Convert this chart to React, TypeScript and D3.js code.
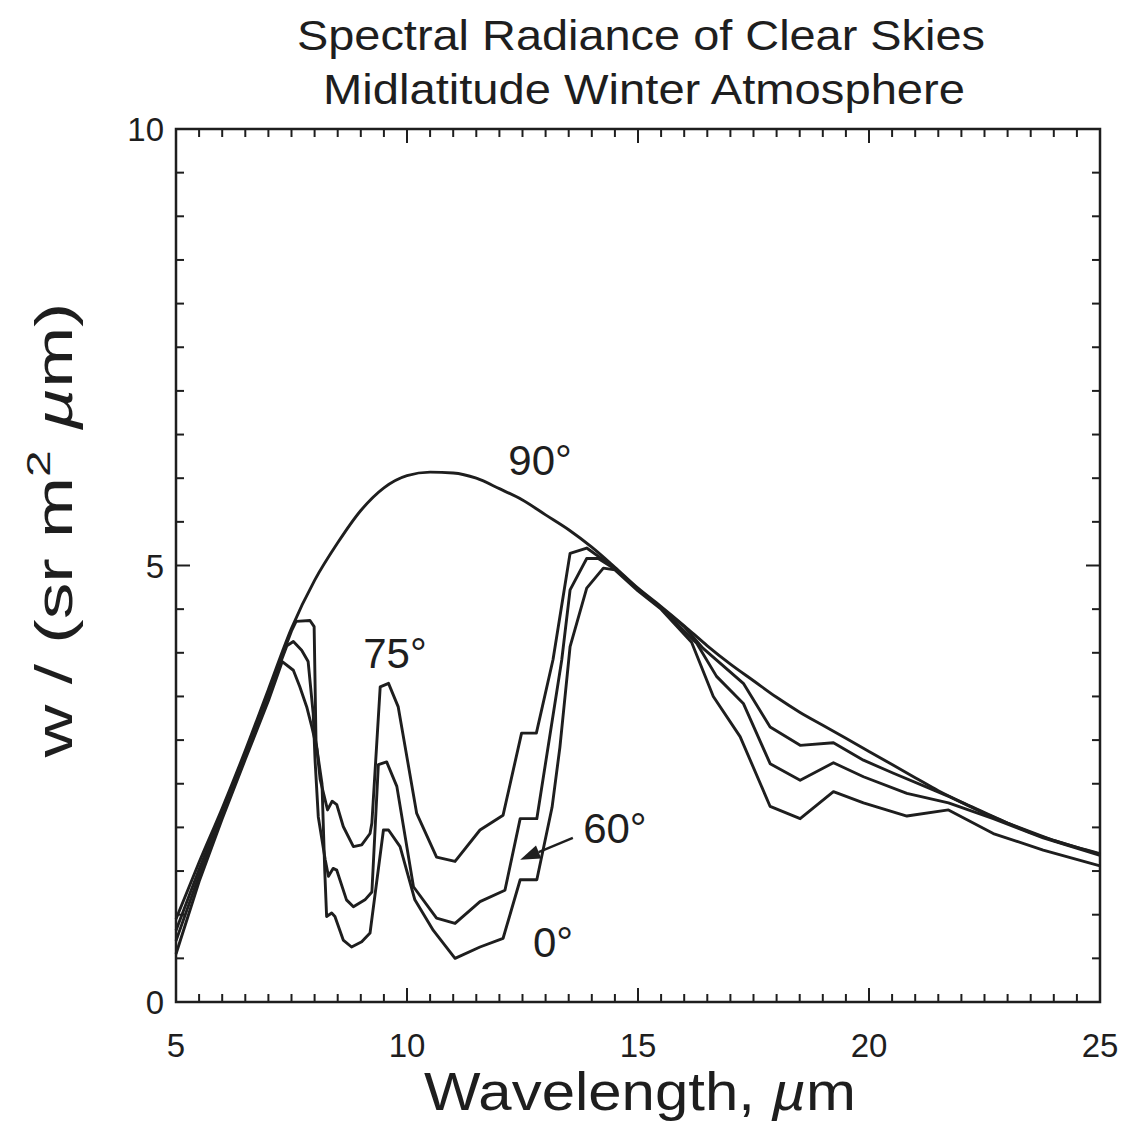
import React from 'react';
import * as d3 from 'd3';

const W = 1126;
const H = 1136;
const margin = { top: 129, right: 26, bottom: 134, left: 176 };
const FONT = '"Liberation Sans", Arial, sans-serif';
const INK = '#1e1e1e';

// axis ticks
const xMajor = [5, 10, 15, 20, 25];
const yMajor = [0, 5, 10];

// radiance curves, [wavelength um, W/(sr m2 um)]
const zenith90: [number, number][] = [
  [5, 0.95], [5.5, 1.6], [6, 2.22], [6.5, 2.88], [7, 3.58], [7.5, 4.28], [8, 4.83],
  [8.5, 5.26], [9, 5.63], [9.5, 5.89], [10, 6.03], [10.5, 6.07], [11, 6.06],
  [11.5, 6.0], [12, 5.88], [12.5, 5.75], [13, 5.58], [13.5, 5.41], [14, 5.21],
  [14.5, 4.98], [15, 4.74], [15.5, 4.53], [16, 4.31], [16.5, 4.08], [17, 3.87],
  [17.5, 3.68], [18, 3.49], [18.5, 3.32], [19, 3.17], [19.5, 3.02], [20, 2.87],
  [20.5, 2.72], [21, 2.57], [21.5, 2.42], [22, 2.29], [22.5, 2.17], [23, 2.05],
  [23.5, 1.94], [24, 1.85], [24.5, 1.77], [25, 1.7],
];

const zenith75: [number, number][] = [
  [5, 0.82], [5.5, 1.52], [6, 2.18], [6.5, 2.85], [7, 3.55], [7.5, 4.25], [7.6, 4.36],
  [7.9, 4.37], [7.99, 4.3], [8.03, 3.0], [8.12, 2.55], [8.28, 2.2], [8.38, 2.3],
  [8.48, 2.26], [8.62, 2.01], [8.84, 1.78], [9.02, 1.8], [9.2, 1.93], [9.24, 2.05],
  [9.42, 3.61], [9.6, 3.65], [9.81, 3.38], [10.21, 2.16], [10.64, 1.66], [11.04, 1.61],
  [11.58, 1.97], [12.08, 2.14], [12.48, 3.08], [12.8, 3.08], [13.16, 3.92], [13.53, 5.14],
  [13.89, 5.2], [14.5, 4.97], [15, 4.73], [15.5, 4.52], [16, 4.3], [16.41, 4.05],
  [17.28, 3.65], [17.86, 3.15], [18.51, 2.94], [19.23, 2.97], [19.88, 2.77],
  [20.53, 2.62], [21.39, 2.43], [21.75, 2.35], [22.5, 2.16], [23, 2.05], [24, 1.85],
  [25, 1.69],
];

const zenith60: [number, number][] = [
  [5, 0.7], [5.5, 1.45], [6, 2.15], [6.5, 2.83], [7, 3.52], [7.4, 4.08], [7.54, 4.13],
  [7.72, 4.03], [7.86, 3.9], [7.97, 3.3], [8.01, 2.77], [8.08, 2.12], [8.23, 1.63],
  [8.3, 1.44], [8.4, 1.53], [8.48, 1.51], [8.69, 1.17], [8.84, 1.09], [9.09, 1.17],
  [9.24, 1.26], [9.38, 2.72], [9.56, 2.75], [9.78, 2.47], [10.14, 1.32], [10.64, 0.96],
  [11.04, 0.9], [11.58, 1.15], [12.12, 1.28], [12.45, 2.1], [12.81, 2.1], [13.35, 3.92],
  [13.53, 4.72], [13.89, 5.08], [14.14, 5.08], [14.5, 4.96], [15, 4.72], [15.5, 4.51],
  [16.27, 4.11], [16.7, 3.73], [17.28, 3.42], [17.86, 2.73], [18.51, 2.54], [19.23, 2.74],
  [19.88, 2.58], [20.82, 2.39], [21.72, 2.28], [22.69, 2.1], [23.77, 1.88], [25, 1.68],
];

const zenith0: [number, number][] = [
  [5, 0.55], [5.5, 1.38], [6, 2.1], [6.5, 2.78], [7, 3.45], [7.3, 3.9], [7.54, 3.8],
  [7.68, 3.61], [7.83, 3.38], [7.94, 3.15], [8.05, 2.9], [8.16, 2.5], [8.22, 1.5],
  [8.26, 0.98], [8.37, 1.02], [8.44, 0.98], [8.62, 0.71], [8.8, 0.63], [9.02, 0.69],
  [9.2, 0.79], [9.49, 1.97], [9.6, 1.97], [9.85, 1.78], [10.17, 1.17], [10.57, 0.82],
  [11.04, 0.5], [11.58, 0.63], [12.08, 0.73], [12.45, 1.4], [12.81, 1.4], [13.14, 2.23],
  [13.31, 2.92], [13.53, 4.07], [13.89, 4.74], [14.25, 4.97], [14.5, 4.95], [15, 4.71],
  [15.5, 4.5], [16.16, 4.12], [16.63, 3.5], [17.21, 3.04], [17.86, 2.24], [18.51, 2.1],
  [19.23, 2.41], [19.88, 2.28], [20.82, 2.13], [21.72, 2.2], [22.69, 1.93], [23.77, 1.74],
  [25, 1.56],
];

// angle labels: text, wavelength of centre, radiance of baseline
const angleLabels: { text: string; wl: number; v: number }[] = [
  { text: '90°', wl: 12.88, v: 6.04 },
  { text: '75°', wl: 9.74, v: 3.83 },
  { text: '60°', wl: 14.5, v: 1.82 },
  { text: '0°', wl: 13.16, v: 0.52 },
];

// arrow from the 60 label to its curve
const arrowFrom: [number, number] = [13.59, 1.88];
const arrowTo: [number, number] = [12.45, 1.63];

export default function App() {
  const iw = W - margin.left - margin.right;
  const ih = H - margin.top - margin.bottom;
  const x = d3.scaleLinear().domain([5, 25]).range([margin.left, margin.left + iw]);
  const y = d3.scaleLinear().domain([0, 10]).range([margin.top + ih, margin.top]);

  const smooth = d3.line<[number, number]>()
    .x(d => x(d[0]))
    .y(d => y(d[1]))
    .curve(d3.curveMonotoneX);
  const jagged = d3.line<[number, number]>()
    .x(d => x(d[0]))
    .y(d => y(d[1]));

  const xMinor = d3.range(5, 25.001, 0.5);
  const yMinor = d3.range(0, 10.001, 0.5);
  const x0 = x(5), x1 = x(25), y0 = y(0), y1 = y(10);
  const isMajor = (v: number, step: number) => Math.abs(v / step - Math.round(v / step)) < 1e-6;

  // arrow head geometry
  const ax0 = x(arrowFrom[0]), ay0 = y(arrowFrom[1]);
  const ax1 = x(arrowTo[0]), ay1 = y(arrowTo[1]);
  const ang = Math.atan2(ay1 - ay0, ax1 - ax0);
  const hl = 20, hw = 7;
  const bx = ax1 - hl * Math.cos(ang), by = ay1 - hl * Math.sin(ang);
  const head = [
    [ax1, ay1],
    [bx + hw * Math.sin(ang), by - hw * Math.cos(ang)],
    [bx - hw * Math.sin(ang), by + hw * Math.cos(ang)],
  ].map(p => p.join(',')).join(' ');

  return (
    <svg width={W} height={H} style={{ position: 'absolute', left: 0, top: 0, background: '#fff' }}>
      <rect x={0} y={0} width={W} height={H} fill="#fff" />

      {/* title */}
      <text x={641} y={50} textAnchor="middle" fontFamily={FONT} fontSize={43} fill={INK}
        textLength={688} lengthAdjust="spacingAndGlyphs">Spectral Radiance of Clear Skies</text>
      <text x={644} y={104} textAnchor="middle" fontFamily={FONT} fontSize={43} fill={INK}
        textLength={642} lengthAdjust="spacingAndGlyphs">Midlatitude Winter Atmosphere</text>

      {/* ticks on all four sides */}
      <g stroke={INK} strokeWidth={2}>
        {xMinor.map(v => {
          const len = isMajor(v, 5) ? 14 : 8;
          return (
            <g key={'x' + v}>
              <line x1={x(v)} x2={x(v)} y1={y0} y2={y0 - len} />
              <line x1={x(v)} x2={x(v)} y1={y1} y2={y1 + len} />
            </g>
          );
        })}
        {yMinor.map(v => {
          const len = isMajor(v, 5) ? 14 : 8;
          return (
            <g key={'y' + v}>
              <line x1={x0} x2={x0 + len} y1={y(v)} y2={y(v)} />
              <line x1={x1} x2={x1 - len} y1={y(v)} y2={y(v)} />
            </g>
          );
        })}
      </g>
      <rect x={x0} y={y1} width={x1 - x0} height={y0 - y1} fill="none" stroke={INK} strokeWidth={2.5} />

      {/* tick labels */}
      {xMajor.map(v => (
        <text key={'xl' + v} x={x(v)} y={y0 + 55} textAnchor="middle" fontFamily={FONT}
          fontSize={33} fill={INK}>{v}</text>
      ))}
      {yMajor.map(v => (
        <text key={'yl' + v} x={x0 - 12} y={y(v) + 12} textAnchor="end" fontFamily={FONT}
          fontSize={33} fill={INK}>{v}</text>
      ))}

      {/* axis titles */}
      <text x={640} y={1110} textAnchor="middle" fontFamily={FONT} fontSize={54} fill={INK}
        textLength={432} lengthAdjust="spacingAndGlyphs">
        Wavelength, <tspan fontStyle="italic">µ</tspan>m
      </text>
      <text transform="translate(72,530) rotate(-90)" textAnchor="middle" fontFamily={FONT}
        fontSize={52} fill={INK} textLength={455} lengthAdjust="spacingAndGlyphs">
        w / (sr m<tspan dy={-22} fontSize={34}>2</tspan><tspan dy={22}>{'  '}</tspan>
        <tspan fontStyle="italic">µ</tspan>m)
      </text>

      {/* curves */}
      <g fill="none" stroke={INK} strokeWidth={2.9} strokeLinejoin="round">
        <path d={smooth(zenith90) || ''} />
        <path d={jagged(zenith75) || ''} />
        <path d={jagged(zenith60) || ''} />
        <path d={jagged(zenith0) || ''} />
      </g>

      {/* angle labels */}
      {angleLabels.map(l => (
        <text key={l.text} x={x(l.wl)} y={y(l.v)} textAnchor="middle" fontFamily={FONT}
          fontSize={42} fill={INK}>{l.text}</text>
      ))}
      <line x1={ax0} y1={ay0} x2={bx} y2={by} stroke={INK} strokeWidth={2.4} />
      <polygon points={head} fill={INK} />
    </svg>
  );
}
